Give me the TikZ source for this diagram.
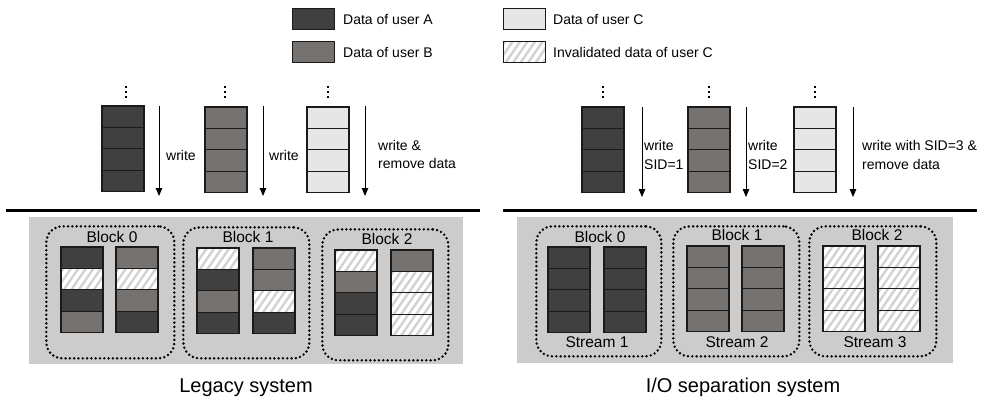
\documentclass[tikz,border=0pt]{standalone}
\usepackage{fontspec}
\setmainfont{Liberation Sans}
\usetikzlibrary{arrows.meta}
\definecolor{userA}{HTML}{404040}
\definecolor{userB}{HTML}{767270}
\definecolor{userC}{HTML}{E6E6E6}
\definecolor{panel}{HTML}{CCCCCC}
\definecolor{stripe}{HTML}{D2D2D2}
\definecolor{edge}{HTML}{1A1A1A}
\newcommand\fs[1]{\fontsize{#1}{#1}\selectfont}
% one column of four cells: prefix, left x, top y, list of cell kinds
\newcommand\cellstack[4]{%
  \foreach \t [count=\i from 0] in {#4}{%
    \node[cell\t, anchor=north west] (#1-\i) at (#2, {#3+\i*21.4}) {};
  }%
}
\tikzset{
  cellbase/.style={draw=edge, line width=1.1pt, minimum width=42pt, minimum height=21.4pt,
    inner sep=0pt, outer sep=0pt},
  cellA/.style={cellbase, fill=userA},
  cellB/.style={cellbase, fill=userB},
  cellC/.style={cellbase, fill=userC},
  cellH/.style={cellbase, fill=white,
    path picture={\foreach \k in {-5,...,8}
      \draw[stripe, line width=2.4pt]
        ([xshift=\k*7.5pt, yshift=-4pt]path picture bounding box.south west) -- ++(22pt,32pt);}},
  legendbox/.style={cellbase, line width=1pt},
  txt/.style={inner sep=0pt, font=\fs{14}, anchor=west, align=left},
  blabel/.style={inner sep=0pt, font=\fs{15.5}},
  title/.style={inner sep=0pt, font=\fs{20}, anchor=base},
  flow/.style={line width=0.9pt, -{Triangle[length=8pt,width=6.5pt]}},
  rule/.style={line width=3pt},
  blockbox/.style={draw, line width=2.7pt, dash pattern=on 0pt off 4.3pt, line cap=round,
    rounded corners=16pt},
  vdot/.style={fill=black, inner sep=0pt, minimum size=2.8pt},
}
\begin{document}
\begin{tikzpicture}[x=1pt, y=-1pt]
\useasboundingbox (0,0) rectangle (984,397);

% legend
\node[legendbox, fill=userA, anchor=north west] (legA) at (292,8) {};
\node[legendbox, fill=userB, anchor=north west] (legB) at (292,41) {};
\node[legendbox, fill=userC, anchor=north west] (legC) at (503,8) {};
\node[cellH, legendbox, anchor=north west] (legH) at (503,41) {};
\node[txt] (tA) at (343,19) {Data of user A};
\node[txt] (tB) at (343,52) {Data of user B};
\node[txt] (tC) at (553,19) {Data of user C};
\node[txt] (tH) at (553,52) {Invalidated data of user C};

% incoming writes, legacy side
\cellstack{la}{102}{106}{A,A,A,A}
\cellstack{lb}{205}{107}{B,B,B,B}
\cellstack{lc}{307}{107}{C,C,C,C}
\foreach \n/\x in {da/126, db/225, dc/328}{
  \foreach \y [count=\j] in {87,92,97} \node[vdot] (\n\j) at (\x,\y) {};
}
\coordinate (w1s) at (159,106); \coordinate (w1e) at (159,196);
\coordinate (w2s) at (263,106); \coordinate (w2e) at (263,196);
\coordinate (w3s) at (365,106); \coordinate (w3e) at (365,196);
\draw[flow] (w1s) -- (w1e);
\draw[flow] (w2s) -- (w2e);
\draw[flow] (w3s) -- (w3e);
\node[txt] (lw1) at (166,155) {write};
\node[txt] (lw2) at (269,155) {write};
\node[txt] (lw3) at (378,154) {write \&\\[4pt]remove data};

% incoming writes, stream side
\cellstack{ra}{582}{107}{A,A,A,A}
\cellstack{rb}{688}{107}{B,B,B,B}
\cellstack{rc}{794}{107}{C,C,C,C}
\foreach \n/\x in {ea/603, eb/709, ec/815}{
  \foreach \y [count=\j] in {87,92,97} \node[vdot] (\n\j) at (\x,\y) {};
}
\coordinate (s1s) at (642,107); \coordinate (s1e) at (642,197);
\coordinate (s2s) at (746,107); \coordinate (s2e) at (746,197);
\coordinate (s3s) at (853,107); \coordinate (s3e) at (853,197);
\draw[flow] (s1s) -- (s1e);
\draw[flow] (s2s) -- (s2e);
\draw[flow] (s3s) -- (s3e);
\node[txt] (rw1) at (644,155) {write\\[5pt]SID=1};
\node[txt] (rw2) at (748,155) {write\\[5pt]SID=2};
\node[txt] (rw3) at (862,155) {write with SID=3 \&\\[5pt]remove data};

% device boundary
\coordinate (l0) at (6,210); \coordinate (l1) at (480,210);
\coordinate (r0) at (503,210); \coordinate (r1) at (977,210);
\draw[rule] (l0) -- (l1);
\draw[rule] (r0) -- (r1);

% flash panels
\fill[panel] (29,217) rectangle (463,364);
\fill[panel] (517,217) rectangle (953,363);

% legacy blocks
\node[blockbox, minimum width=128pt, minimum height=132pt, anchor=north west] (lk0) at (45,225) {};
\node[blockbox, minimum width=126pt, minimum height=131pt, anchor=north west] (lk1) at (182,226) {};
\node[blockbox, minimum width=126pt, minimum height=131pt, anchor=north west] (lk2) at (321,228) {};
\node[blabel] (lb0) at (112,237) {Block 0};
\node[blabel] (lb1) at (248,237) {Block 1};
\node[blabel] (lb2) at (387,239) {Block 2};
\cellstack{p0a}{61}{247}{A,H,A,B}
\cellstack{p0b}{116}{247}{B,H,B,A}
\cellstack{p1a}{197}{248}{H,A,B,A}
\cellstack{p1b}{253}{248}{B,B,H,A}
\cellstack{p2a}{335}{250}{H,B,A,A}
\cellstack{p2b}{391}{250}{B,H,H,H}

% stream blocks
\node[blockbox, minimum width=125pt, minimum height=130pt, anchor=north west] (rk0) at (535,225) {};
\node[blockbox, minimum width=126pt, minimum height=130pt, anchor=north west] (rk1) at (672,225) {};
\node[blockbox, minimum width=127pt, minimum height=130pt, anchor=north west] (rk2) at (808,225) {};
\node[blabel] (rb0) at (600,237) {Block 0};
\node[blabel] (rb1) at (737,235) {Block 1};
\node[blabel] (rb2) at (877,235) {Block 2};
\node[blabel] (st1) at (597,342) {Stream 1};
\node[blabel] (st2) at (737,342) {Stream 2};
\node[blabel] (st3) at (875,342) {Stream 3};
\cellstack{q0a}{548}{247}{A,A,A,A}
\cellstack{q0b}{604}{247}{A,A,A,A}
\cellstack{q1a}{687}{246}{B,B,B,B}
\cellstack{q1b}{742}{246}{B,B,B,B}
\cellstack{q2a}{823}{246}{H,H,H,H}
\cellstack{q2b}{878}{246}{H,H,H,H}

% captions
\node[title] (cap1) at (246,392) {Legacy system};
\node[title] (cap2) at (743,392) {I/O separation system};
\end{tikzpicture}
\end{document}
